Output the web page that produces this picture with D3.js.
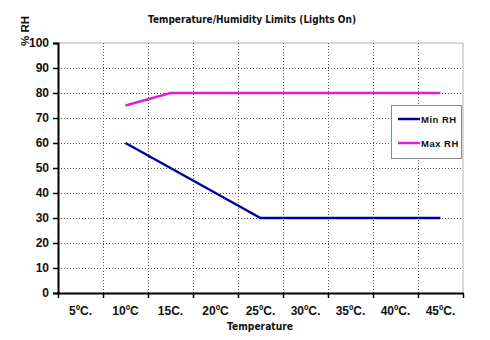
<!DOCTYPE html>
<html><head><meta charset="utf-8">
<script src="https://cdn.jsdelivr.net/npm/d3@7"></script>
<style>body{margin:0;background:#fff}svg{display:block}</style>
</head><body>
<svg id="c" width="490" height="340"></svg>
<script>
const categories = ["5ºC.", "10ºC", "15C.", "20ºC", "25ºC.", "30ºC.", "35ºC.", "40ºC.", "45ºC."];
const minRH = [null, 60, 50, 40, 30, 30, 30, 30, 30];
const maxRH = [null, 75, 80, 80, 80, 80, 80, 80, 80];
const yTicks = [0, 10, 20, 30, 40, 50, 60, 70, 80, 90, 100];
const seriesNames = ["Min RH", "Max RH"];
const colors = ["#0000a0", "#e020d0"];

const svg = d3.select("#c");
const L = 58, R = 463, T = 43, B = 293;
const x = d3.scaleBand().domain(categories).range([L, R]).padding(0);
const y = d3.scaleLinear().domain([0, 100]).range([B, T]);
const tf = "'Liberation Sans', Arial, sans-serif";
const tt = "'DejaVu Sans', Verdana, sans-serif";

svg.append("path").attr("d", `M${L},${T}H${R}V${B}`).attr("fill", "none").attr("stroke", "#b0b0b0").attr("stroke-width", 1);

svg.append("g").selectAll("line").data(yTicks.filter(d => d > 0 && d < 100)).join("line")
  .attr("x1", L).attr("x2", R).attr("y1", d => Math.round(y(d)) + 0.5).attr("y2", d => Math.round(y(d)) + 0.5)
  .attr("stroke", "#555").attr("stroke-width", 1).attr("stroke-dasharray", "1,2");
svg.append("g").selectAll("line").data(categories.slice(1)).join("line")
  .attr("x1", d => Math.round(x(d)) + 0.5).attr("x2", d => Math.round(x(d)) + 0.5).attr("y1", T).attr("y2", B)
  .attr("stroke", "#555").attr("stroke-width", 1).attr("stroke-dasharray", "1,2");

const ya = svg.append("g").attr("transform", `translate(${L},0)`)
  .call(d3.axisLeft(y).tickValues(yTicks).tickSize(5).tickPadding(4));
ya.select(".domain").attr("stroke", "#000").attr("stroke-width", 2);
ya.selectAll(".tick line").attr("stroke", "#000").attr("stroke-width", 1.5);
ya.selectAll("text").attr("font-family", tf).attr("font-weight", "bold").attr("font-size", 12).attr("fill", "#111");

const xa = svg.append("g").attr("transform", `translate(0,${B})`)
  .call(d3.axisBottom(x).tickSize(0).tickPadding(13));
xa.select(".domain").attr("stroke", "#000").attr("stroke-width", 2);
xa.selectAll("text").attr("font-family", tf).attr("font-weight", "bold").attr("font-size", 12).attr("fill", "#111");
svg.append("g").selectAll("line").data(categories.concat(["__end"])).join("line")
  .attr("x1", (d, i) => Math.round(L + i * x.bandwidth()) + 0.5)
  .attr("x2", (d, i) => Math.round(L + i * x.bandwidth()) + 0.5)
  .attr("y1", B).attr("y2", B + 5).attr("stroke", "#000").attr("stroke-width", 1.5);

const line = d3.line().defined(d => d.v != null).x(d => x(d.c) + x.bandwidth() / 2).y(d => y(d.v));
[minRH, maxRH].forEach((s, i) => {
  svg.append("path").datum(categories.map((c, j) => ({c, v: s[j]})))
    .attr("d", line).attr("fill", "none").attr("stroke", colors[i]).attr("stroke-width", 2.5);
});

svg.append("text").attr("x", 252).attr("y", 23).attr("text-anchor", "middle")
  .attr("font-family", tt).attr("font-weight", "bold").attr("font-size", 10.5).attr("fill", "#111")
  .attr("textLength", 208).attr("lengthAdjust", "spacingAndGlyphs")
  .text("Temperature/Humidity Limits (Lights On)");
svg.append("text").attr("x", 260).attr("y", 330).attr("text-anchor", "middle")
  .attr("font-family", tt).attr("font-weight", "bold").attr("font-size", 10.5).attr("fill", "#111")
  .attr("textLength", 66).attr("lengthAdjust", "spacingAndGlyphs")
  .text("Temperature");
svg.append("text").attr("transform", "translate(29,31) rotate(-90)").attr("text-anchor", "middle")
  .attr("font-family", tf).attr("font-weight", "bold").attr("font-size", 11.5).attr("fill", "#111")
  .text("% RH");

const lg = svg.append("g");
lg.append("rect").attr("x", 391.5).attr("y", 105.5).attr("width", 70).attr("height", 53)
  .attr("fill", "#fff").attr("stroke", "#888");
seriesNames.forEach((n, i) => {
  const yy = 119 + i * 24;
  lg.append("line").attr("x1", 398).attr("x2", 420).attr("y1", yy).attr("y2", yy)
    .attr("stroke", colors[i]).attr("stroke-width", 2.5);
  lg.append("text").attr("x", 421).attr("y", yy + 3.5).attr("font-family", tf).attr("font-weight", "bold")
    .attr("font-size", 9.5).attr("letter-spacing", 0.5).attr("fill", "#111").text(n);
});
</script>
</body></html>
